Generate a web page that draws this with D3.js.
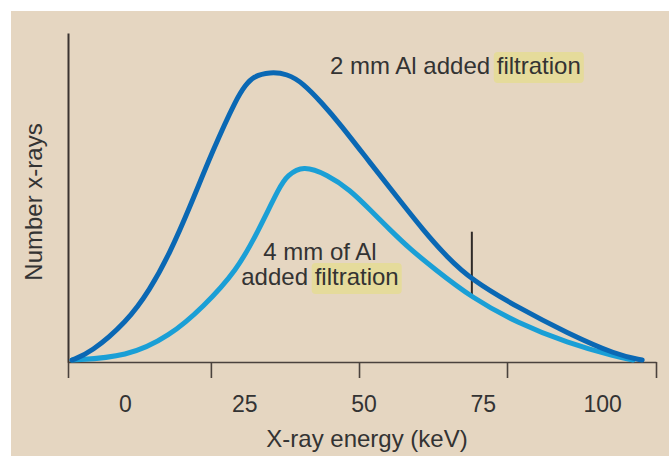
<!DOCTYPE html>
<html>
<head>
<meta charset="utf-8">
<script src="https://cdn.jsdelivr.net/npm/d3@7"></script>
<style>
  html, body { margin: 0; padding: 0; background: #fff; }
  svg { display: block; font-family: "Liberation Sans", Arial, sans-serif; }
  .lbl { fill: #333; font-size: 24px; }
</style>
</head>
<body>
<svg id="chart"></svg>
<script>
// tick labels (keV) and the tick marks on the axis (keV, they sit between labels)
const kevLabels = [0, 25, 50, 75, 100];
const kevTickMarks = [-11.95, 18, 49.05, 80.07, 111.3];

// 2 mm Al added filtration
const energy2mm = [-11.1, -7.3, 0.4, 5.2, 9.4, 13.6, 18.4, 23.5, 25.2, 26.8, 30.4, 34.0, 37.3, 41.3, 45.1, 51.4, 57.0, 62.5, 67.5, 72.7, 82.2, 92.7, 103.1, 108.4];
const count2mm = [0.6, 2.7, 12.2, 21.9, 33.1, 47.1, 64.4, 80.5, 84.0, 86.8, 88.2, 87.6, 84.8, 78.7, 72.3, 60.5, 50.2, 40.1, 31.9, 24.9, 16.7, 8.8, 2.1, 0.6];

// 4 mm of Al added filtration
const energy4mm = [-11.1, 0.4, 9.4, 16.4, 23.5, 27.7, 32.5, 34.0, 37.3, 42.3, 47.2, 51.4, 55.6, 59.7, 64.6, 72.7, 82.2, 92.7, 103.1, 106.5];
const count4mm = [0.6, 1.5, 7.9, 16.7, 28.0, 39.2, 53.6, 56.6, 59.8, 57.0, 52.3, 46.2, 40.1, 34.4, 28.6, 19.5, 11.9, 5.8, 1.5, 0.6];

// vertical marker line
const markerKev = 72.7;
const markerRange = [19.6, 39.6];

const width = 669;
const height = 456;

const svg = d3.select("#chart").attr("width", width).attr("height", height);

svg.append("rect")
  .attr("x", 11).attr("y", 11)
  .attr("width", width - 11).attr("height", height - 11)
  .attr("fill", "#e5d6c1");

const xScale = d3.scaleLinear().domain([-11.95, 111.3]).range([68, 656]);
const yScale = d3.scaleLinear().domain([0, 100]).range([362, 33]);

// x axis: line + tick marks
svg.append("g")
  .attr("transform", "translate(0, 362)")
  .call(d3.axisBottom(xScale).tickValues(kevTickMarks).tickFormat("").tickSize(16).tickSizeOuter(0))
  .call((g) => g.selectAll("path, line").attr("stroke", "#4a423d").attr("stroke-width", 1.6));

// x tick labels
svg.append("g")
  .attr("transform", "translate(0, 362)")
  .call(d3.axisBottom(xScale).tickValues(kevLabels).tickSize(0).tickPadding(50))
  .call((g) => g.select(".domain").remove())
  .call((g) => g.selectAll("text")
    .attr("fill", "#333")
    .attr("font-size", 23)
    .attr("font-family", "Liberation Sans, Arial, sans-serif")
    .attr("dy", 0));

// y axis line only
svg.append("g")
  .attr("transform", "translate(68, 0)")
  .call(d3.axisLeft(yScale).tickValues([]).tickSizeOuter(0))
  .call((g) => g.select(".domain").attr("stroke", "#3a3330").attr("stroke-width", 2));

// marker
svg.append("line")
  .attr("x1", xScale(markerKev)).attr("x2", xScale(markerKev))
  .attr("y1", yScale(markerRange[0])).attr("y2", yScale(markerRange[1]))
  .attr("stroke", "#2f2a28").attr("stroke-width", 2);

const line = d3.line()
  .x((d) => xScale(d[0]))
  .y((d) => yScale(d[1]))
  .curve(d3.curveBasis);

const series = [
  { e: energy4mm, c: count4mm, color: "#1a9fd6" },
  { e: energy2mm, c: count2mm, color: "#0a68b4" },
];

svg.selectAll("path.curve")
  .data(series)
  .enter()
  .append("path")
  .attr("class", "curve")
  .attr("d", (s) => line(s.e.map((v, i) => [v, s.c[i]])))
  .attr("fill", "none")
  .attr("stroke", (s) => s.color)
  .attr("stroke-width", 5)
  .attr("stroke-linecap", "round");

// annotations with highlighted "filtration"
function annotate(x, y, before, anchor) {
  const g = svg.append("g");
  const t = g.append("text")
    .attr("class", "lbl")
    .attr("x", x).attr("y", y)
    .attr("text-anchor", anchor);
  t.append("tspan").text(before);
  const hi = t.append("tspan").text("filtration");
  const node = hi.node();
  const start = node.getStartPositionOfChar(0);
  const len = node.getComputedTextLength();
  g.insert("rect", "text")
    .attr("x", start.x - 3).attr("y", y - 22)
    .attr("width", len + 6).attr("height", 31)
    .attr("rx", 4)
    .attr("fill", "#e5db9b");
}

annotate(330, 74, "2 mm Al added ", "start");

svg.append("text")
  .attr("class", "lbl")
  .attr("x", 320).attr("y", 260)
  .attr("text-anchor", "middle")
  .text("4 mm of Al");
annotate(320, 285, "added ", "middle");

// axis titles
svg.append("text")
  .attr("class", "lbl")
  .attr("x", 367).attr("y", 447)
  .attr("text-anchor", "middle")
  .text("X-ray energy (keV)");

svg.append("text")
  .attr("class", "lbl")
  .attr("transform", "translate(42, 202) rotate(-90)")
  .attr("text-anchor", "middle")
  .text("Number x-rays");
</script>
</body>
</html>
